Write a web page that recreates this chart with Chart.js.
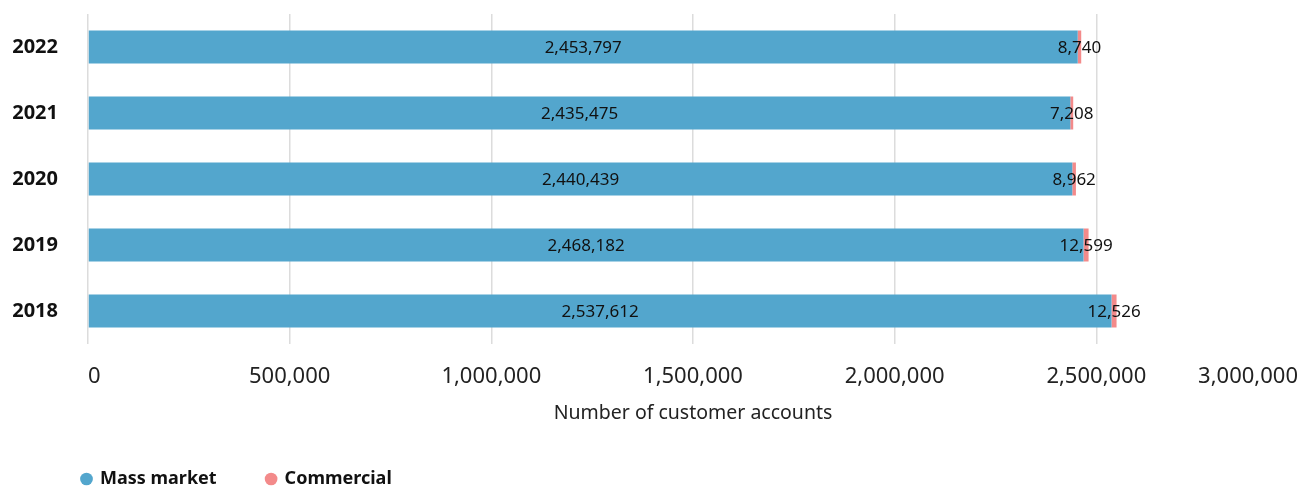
<!DOCTYPE html>
<html>
<head>
<meta charset="utf-8">
<script src="https://cdn.jsdelivr.net/npm/chart.js@4.4.0/dist/chart.umd.min.js"></script>
<style>
  html, body { margin: 0; padding: 0; background: #fff; }
  #wrap { width: 1298px; height: 486px; }
</style>
</head>
<body>
<div id="wrap"><canvas id="accountsChart"></canvas></div>
<script>
const years = ['2022', '2021', '2020', '2019', '2018'];
const massMarket = [2453797, 2435475, 2440439, 2468182, 2537612];
const commercial = [8740, 7208, 8962, 12599, 12526];
const xTicks = [0, 500000, 1000000, 1500000, 2000000, 2500000, 3000000];

const FONT = "'Noto Sans', sans-serif";

/* value labels: centred on each bar segment */
const barLabels = {
    id: 'barLabels',
    afterDatasetsDraw(chart) {
        const ctx = chart.ctx;
        ctx.save();
        ctx.font = '17px ' + FONT;
        ctx.fillStyle = '#111';
        ctx.textAlign = 'center';
        ctx.textBaseline = 'middle';
        chart.data.datasets.forEach((ds, i) => {
            chart.getDatasetMeta(i).data.forEach((bar, j) => {
                const cx = (bar.x + bar.base) / 2;
                ctx.fillText(ds.data[j].toLocaleString('en-US'), cx, bar.y + 1);
            });
        });
        ctx.restore();
    }
};

/* move the legend row so it lines up under the plot */
const legendShift = {
    id: 'legendShift',
    afterLayout(chart) {
        chart.legend.left += 32;
    }
};

const ctx = document.getElementById('accountsChart').getContext('2d');
const accountsChart = new Chart(ctx, {
    type: 'bar',
    data: {
        labels: years,
        datasets: [{
            label: 'Mass market',
            data: massMarket,
            backgroundColor: '#53a6cd'
        }, {
            label: 'Commercial',
            data: commercial,
            backgroundColor: '#f38a8a'
        }]
    },
    options: {
        indexAxis: 'y',
        responsive: true,
        maintainAspectRatio: false,
        animation: false,
        layout: {
            padding: { top: 14, left: 0, right: 0, bottom: -12 }
        },
        datasets: {
            bar: { barPercentage: 0.5, categoryPercentage: 1 }
        },
        scales: {
            x: {
                stacked: true,
                min: 0,
                max: 3000000,
                afterBuildTicks: scale => { scale.ticks = xTicks.map(v => ({ value: v })); },
                afterFit: scale => {
                    scale.height = 76;
                    scale.paddingLeft = 0;
                    scale.paddingRight = 0;
                },
                border: { display: false },
                grid: {
                    drawTicks: false,
                    color: c => (c.tick && c.tick.value === 3000000) ? 'rgba(0,0,0,0)' : '#dcdcdc',
                    lineWidth: 1.5
                },
                ticks: {
                    align: 'inner',
                    padding: 20,
                    color: '#222',
                    font: { family: FONT, size: 22 },
                    callback: v => v.toLocaleString('en-US')
                },
                title: {
                    display: true,
                    text: 'Number of customer accounts',
                    color: '#222',
                    font: { family: FONT, size: 19.5 },
                    padding: { top: 6, bottom: -5 }
                }
            },
            y: {
                stacked: true,
                afterFit: scale => {
                    scale.width = 88;
                    scale.paddingTop = 0;
                    scale.paddingBottom = 0;
                },
                border: { display: false },
                grid: { display: false, drawTicks: false },
                ticks: {
                    padding: 30,
                    color: '#111',
                    font: { family: FONT, size: 20, weight: 'bold' }
                }
            }
        },
        plugins: {
            legend: {
                position: 'bottom',
                align: 'start',
                labels: {
                    usePointStyle: true,
                    pointStyle: 'circle',
                    boxWidth: 9,
                    boxHeight: 9,
                    padding: 50,
                    color: '#111',
                    font: { family: FONT, size: 18, weight: 'bold' }
                }
            },
            tooltip: { enabled: false }
        }
    },
    plugins: [barLabels, legendShift]
});
</script>
</body>
</html>
